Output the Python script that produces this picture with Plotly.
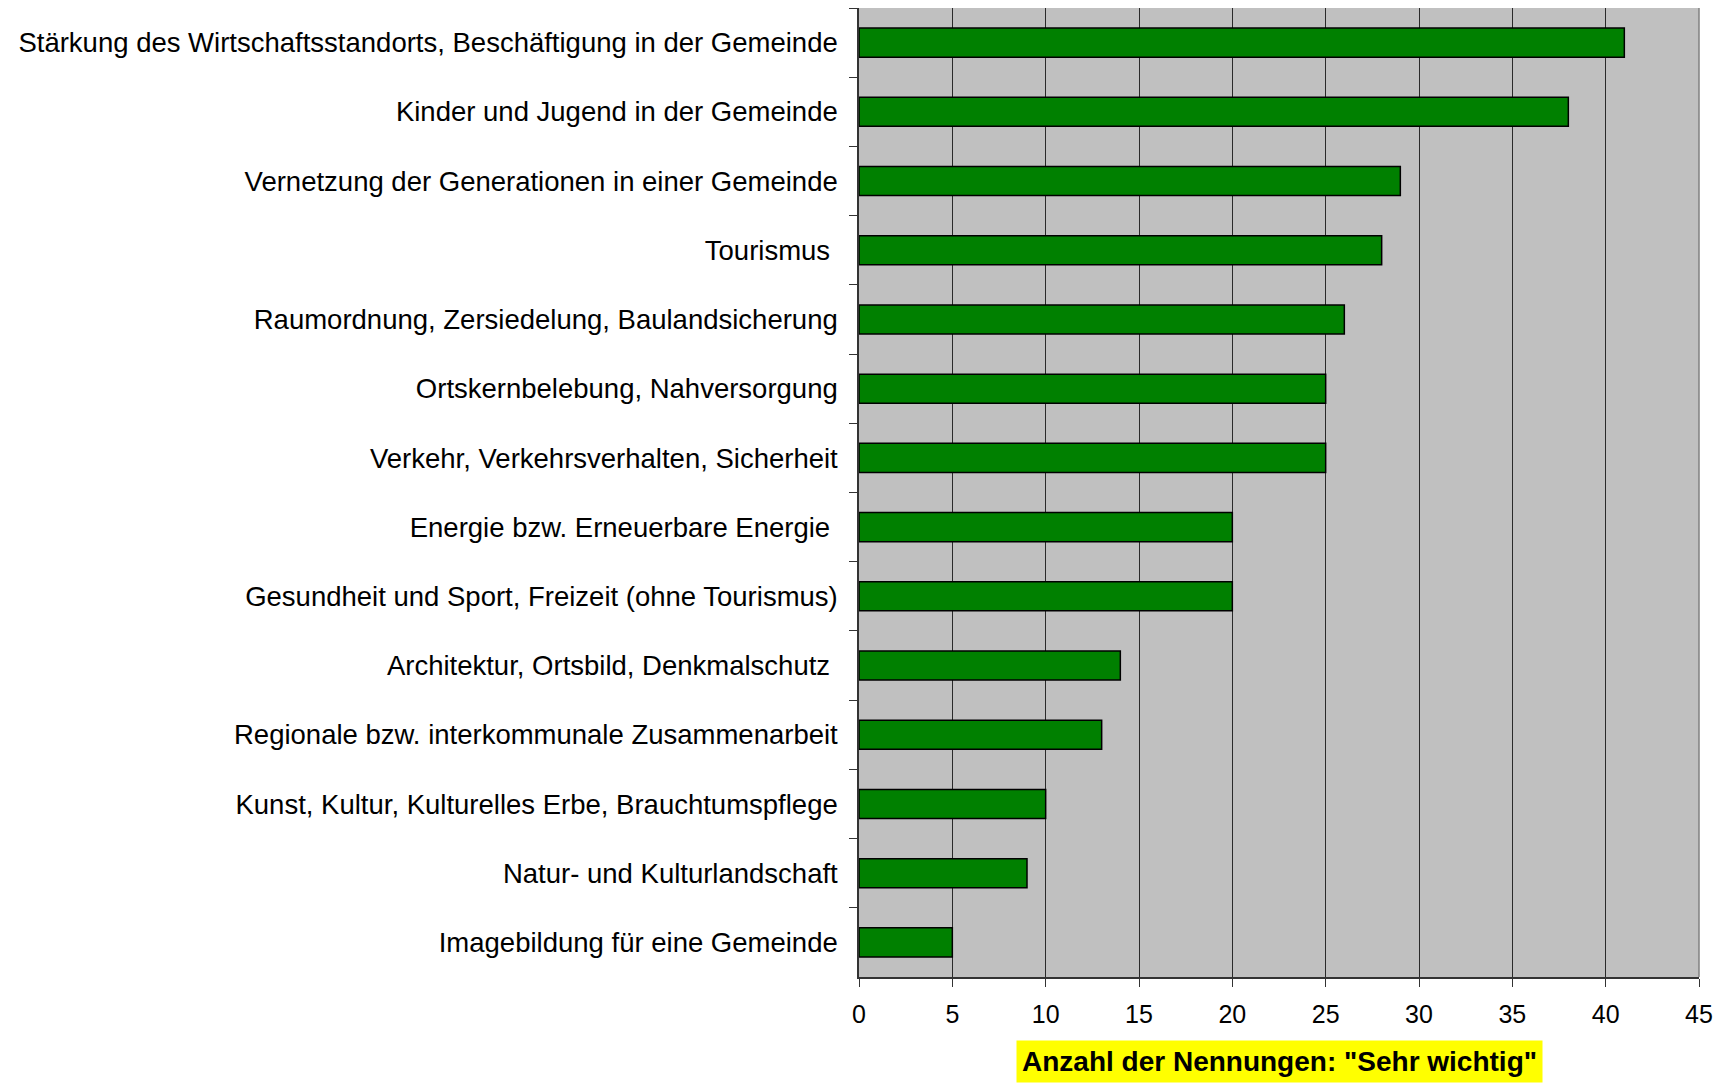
import plotly.graph_objects as go

categories = [
    "Stärkung des Wirtschaftsstandorts, Beschäftigung in der Gemeinde",
    "Kinder und Jugend in der Gemeinde",
    "Vernetzung der Generationen in einer Gemeinde",
    "Tourismus\u00a0",
    "Raumordnung, Zersiedelung, Baulandsicherung",
    "Ortskernbelebung, Nahversorgung",
    "Verkehr, Verkehrsverhalten, Sicherheit",
    "Energie bzw. Erneuerbare Energie\u00a0",
    "Gesundheit und Sport, Freizeit (ohne Tourismus)",
    "Architektur, Ortsbild, Denkmalschutz\u00a0",
    "Regionale bzw. interkommunale Zusammenarbeit",
    "Kunst, Kultur, Kulturelles Erbe, Brauchtumspflege",
    "Natur- und Kulturlandschaft",
    "Imagebildung für eine Gemeinde",
]
values = [41, 38, 29, 28, 26, 25, 25, 20, 20, 14, 13, 10, 9, 5]
x_ticks = [0, 5, 10, 15, 20, 25, 30, 35, 40, 45]
x_title = 'Anzahl der Nennungen: "Sehr wichtig"'

FONT = "Liberation Sans, Arial, sans-serif"

fig = go.Figure(go.Bar(
    x=values, y=categories, orientation="h",
    marker=dict(color="#008000", line=dict(color="#000000", width=1.5)),
    hoverinfo="x+y",
))

fig.update_layout(
    width=1719, height=1075,
    margin=dict(l=851, r=28, t=0, b=106),
    paper_bgcolor="white", plot_bgcolor="#C0C0C0",
    bargap=0.58,
    showlegend=False,
    font=dict(family=FONT, color="black"),
)

fig.update_xaxes(
    range=[0, 45], tickvals=x_ticks, ticktext=[str(v) for v in x_ticks],
    showgrid=True, gridcolor="#2a2a2a", gridwidth=1,
    zeroline=False,
    showline=True, linecolor="#333333", linewidth=1.5,
    ticks="outside", ticklen=8, tickcolor="#333333", tickwidth=1,
    tickfont=dict(family=FONT, size=25, color="black"),
    ticklabelstandoff=6,
    fixedrange=True,
)
fig.update_yaxes(
    categoryorder="array", categoryarray=categories, autorange="reversed",
    showgrid=False, zeroline=False,
    showline=True, linecolor="#333333", linewidth=1.5,
    ticks="outside", ticklen=8, tickcolor="#333333", tickwidth=1,
    tickson="boundaries",
    tickfont=dict(family=FONT, size=27.5, color="black"),
    ticklabelstandoff=14,
    fixedrange=True,
)

fig.add_shape(type="line", xref="paper", yref="paper", x0=1, x1=1, y0=0, y1=1,
              line=dict(color="#808080", width=1.5))

fig.add_annotation(
    text="<b>" + x_title + "</b>", xref="paper", yref="paper",
    x=0.5, y=-0.0877, xanchor="center", yanchor="middle", showarrow=False,
    font=dict(family=FONT, size=28, color="black"),
    bgcolor="#FFFF00", borderpad=5,
)

fig.write_html("out.html")
